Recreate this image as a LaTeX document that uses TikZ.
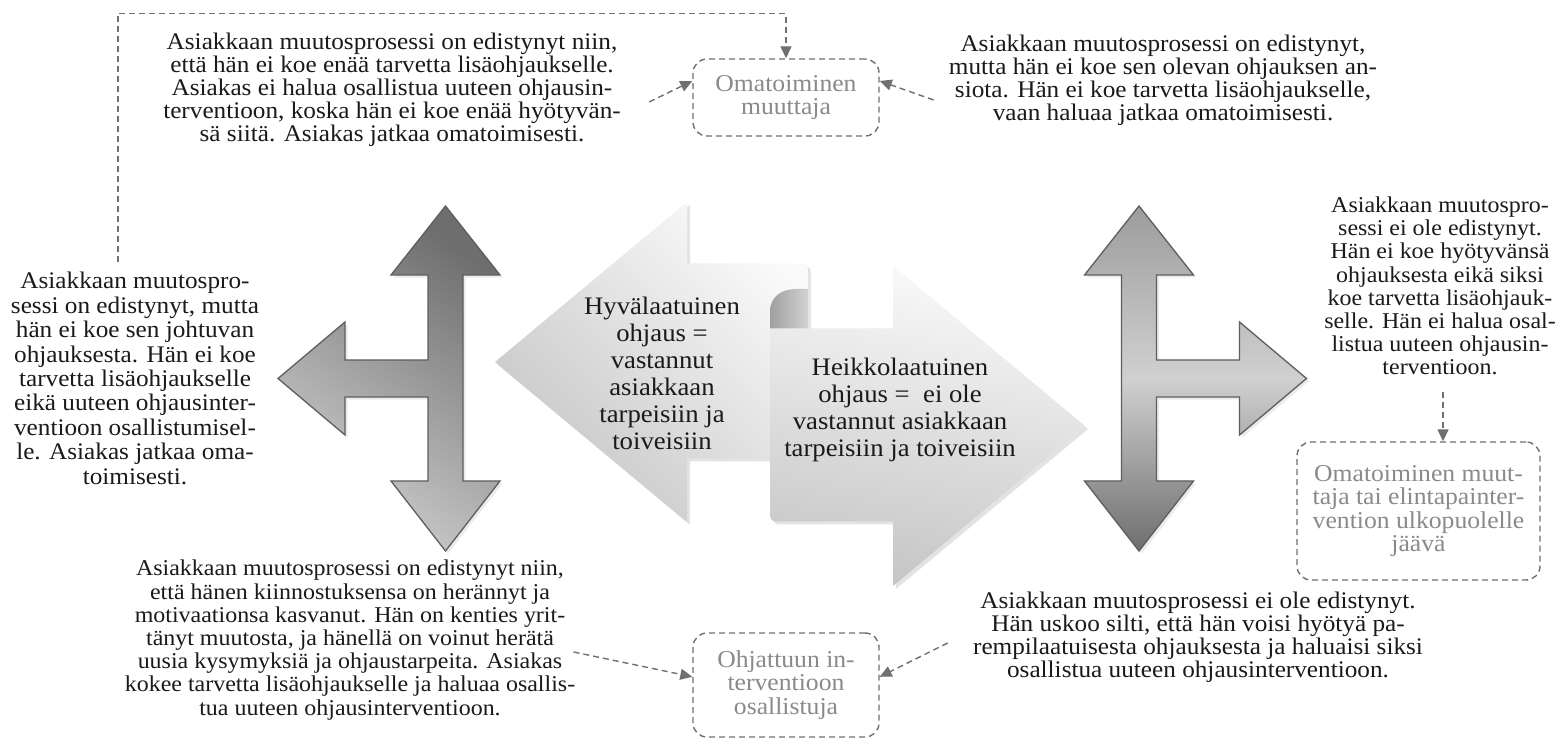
\documentclass[tikz,border=0pt]{standalone}
\usepackage{fontspec}
\setmainfont{Liberation Serif}[FakeStretch=1.06]
\usepackage{tikz}
\usetikzlibrary{calc,arrows.meta,shadows}
\definecolor{ink}      {HTML}{1A1A1A}
\definecolor{softink}  {HTML}{707070}
\definecolor{goalink}  {HTML}{8A8A8A}
\definecolor{arrline}  {HTML}{5E5E5E}
\definecolor{arrdark}  {HTML}{6E6E6E}
\definecolor{arrmid}   {HTML}{9C9C9C}
\definecolor{arrlight} {HTML}{D0D0D0}
\colorlet{bigtop}{gray!4}
\colorlet{bigbot}{gray!45}
\colorlet{curldark}{gray!75}
\colorlet{curllight}{gray!35}
\tikzset{
  % --- nodes
  sidetxt/.style = {align=center, inner sep=0pt, text=ink,
                    font=\fontsize{11.9}{11.5}\selectfont},
  sidesm/.style  = {sidetxt, font=\fontsize{11.3}{11.6}\selectfont},
  sidetall/.style= {sidetxt, font=\fontsize{11.9}{12.2}\selectfont},
  midtxt/.style  = {align=center, inner sep=0pt, text=ink,
                    font=\fontsize{12.6}{13.5}\selectfont},
  goal/.style    = {draw=softink, line width=0.7pt, dash pattern=on 3pt off 2pt,
                    rounded corners=7pt, align=center, inner sep=2pt, text=goalink,
                    font=\fontsize{12.1}{11.8}\selectfont},
  % --- shapes
  tri/.style     = {draw=arrline, line width=0.65pt,
                    drop shadow={shadow xshift=1.3pt, shadow yshift=-1.3pt, fill=gray!30}},
  bigarr/.style  = {draw=none,
                    drop shadow={shadow xshift=1.5pt, shadow yshift=-1.5pt, opacity=0.22}},
  % --- edges
  conn/.style    = {-{Triangle[length=6pt,width=5.5pt]}, draw=softink, fill=none,
                    line width=0.7pt, dash pattern=on 3pt off 2pt},
}
\begin{document}
\begin{tikzpicture}[x=0.5pt,y=-0.5pt]
  \fill[white] (0,0) rectangle (1558,747);
  % three-way arrows
  \path[tri, top color=arrdark, bottom color=arrlight, shading angle=-35]
    (445.5,206) -- (500,275) -- (463,275) -- (463,481) -- (500,481) -- (445.5,551)
    -- (391,481) -- (428,481) -- (428,397) -- (345,397) -- (345,435) -- (278,378.5)
    -- (345,322) -- (345,360) -- (428,360) -- (428,275) -- (391,275) -- cycle;
  \path[tri, top color=arrmid, bottom color=arrdark, middle color=arrlight]
    (1139,206) -- (1193.5,275) -- (1156.5,275) -- (1156.5,360) -- (1239.5,360)
    -- (1239.5,322) -- (1306.5,378.5) -- (1239.5,435) -- (1239.5,397) -- (1156.5,397)
    -- (1156.5,481) -- (1193.5,481) -- (1139,551) -- (1084.5,481) -- (1121.5,481)
    -- (1121.5,275) -- (1084.5,275) -- cycle;
  % opposing arrows
  \path[bigarr, top color=bigtop, bottom color=bigbot, shading angle=-45]
    (495,362) -- (687,202) -- (687,263.5) -- (795,263.5) .. controls (808,263.5) .. (808,276.5)
    -- (808,458.5) -- (687,458.5) -- (687,522) -- cycle;
  \path[bigarr, top color=bigtop, bottom color=bigbot, shading angle=-10]
    (1085,426) -- (893,586) -- (893,521.5) -- (783,521.5) .. controls (770,521.5) .. (770,508.5)
    -- (770,328.5) -- (893,328.5) -- (893,266) -- cycle;
  \path[left color=curldark, right color=curllight]
    (808,289) -- (808,328.5) -- (770,328.5) -- (770,312)
    .. controls (770,297) and (781,289) .. (796,289) -- cycle;
  \node[midtxt] (good) at (662,373) {Hyvälaatuinen\\ohjaus =\\vastannut\\asiakkaan\\tarpeisiin ja\\toiveisiin};
  \node[midtxt] (weak) at (900,410) {Heikkolaatuinen\\ohjaus = \ ei ole\\vastannut asiakkaan\\tarpeisiin ja toiveisiin};
  % outcomes
  \node[sidetxt] (tl) at (392,90) {Asiakkaan muutosprosessi on edistynyt niin,\\että hän ei koe enää tarvetta lisäohjaukselle.\\Asiakas ei halua osallistua uuteen ohjausin-\\terventioon, koska hän ei koe enää hyötyvän-\\sä siitä. Asiakas jatkaa omatoimisesti.};
  \node[sidetxt] (tr) at (1163,80) {Asiakkaan muutosprosessi on edistynyt,\\mutta hän ei koe sen olevan ohjauksen an-\\siota. Hän ei koe tarvetta lisäohjaukselle,\\vaan haluaa jatkaa omatoimisesti.};
  \node[sidetall] (lt) at (135,378.5) {Asiakkaan muutospro-\\sessi on edistynyt, mutta\\hän ei koe sen johtuvan\\ohjauksesta. Hän ei koe\\tarvetta lisäohjaukselle\\eikä uuteen ohjausinter-\\ventioon osallistumisel-\\le. Asiakas jatkaa oma-\\toimisesti.};
  \node[sidesm] (rt) at (1440,286) {Asiakkaan muutospro-\\sessi ei ole edistynyt.\\Hän ei koe hyötyvänsä\\ohjauksesta eikä siksi\\koe tarvetta lisäohjauk-\\selle. Hän ei halua osal-\\listua uuteen ohjausin-\\terventioon.};
  \node[sidesm] (bl) at (350,640) {Asiakkaan muutosprosessi on edistynyt niin,\\että hänen kiinnostuksensa on herännyt ja\\motivaationsa kasvanut. Hän on kenties yrit-\\tänyt muutosta, ja hänellä on voinut herätä\\uusia kysymyksiä ja ohjaustarpeita. Asiakas\\kokee tarvetta lisäohjaukselle ja haluaa osallis-\\tua uuteen ohjausinterventioon.};
  \node[sidetxt] (br) at (1198,637) {Asiakkaan muutosprosessi ei ole edistynyt.\\Hän uskoo silti, että hän voisi hyötyä pa-\\rempilaatuisesta ohjauksesta ja haluaisi siksi\\osallistua uuteen ohjausinterventioon.};
  % goals
  \node[goal, minimum width=93pt, minimum height=38.5pt] (own) at (786,97.5) {Omatoiminen\\muuttaja};
  \node[goal, minimum width=93pt, minimum height=52pt] (ohj) at (786,685) {Ohjattuun in-\\terventioon\\osallistuja};
  \node[goal, minimum width=121.5pt, minimum height=69pt] (rbox) at (1418.5,511) {Omatoiminen muut-\\taja tai elintapainter-\\vention ulkopuolelle\\jäävä};
  % links
  \coordinate (loop) at ($(lt.north)+(-17,-10)$);
  \coordinate (loopturn) at ($(own.north)+(0,-45)$);
  \draw[conn] (loop) |- (loopturn) -- (own.north);
  \draw[conn] ($(tl.east)+(28,12)$) -- (own.170);
  \draw[conn] ($(tr.west)+(-15,20)$) -- (own.10);
  \draw[conn] ($(rt.south)+(3,16)$) -- ($(rbox.north)+(24.5,0)$);
  \draw[conn] ($(bl.east)+(-2,12)$) -- (ohj.175);
  \draw[conn] ($(br.west)+(-25,6)$) -- (ohj.5);
\end{tikzpicture}
\end{document}
